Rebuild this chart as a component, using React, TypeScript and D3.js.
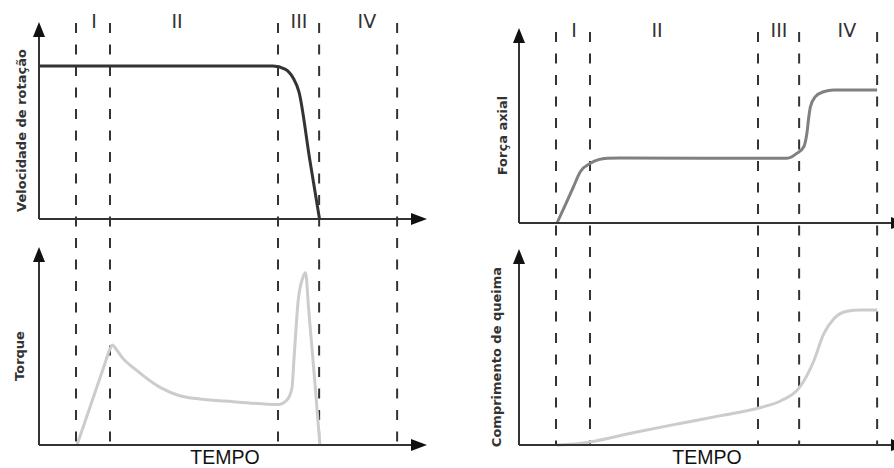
import React from "react";
import * as d3 from "d3";

// Time axis in relative units (0..100), value axis in relative units (0..100)
const phaseBounds = [9.54, 18.3, 61.6, 72.2, 92.3];
const phaseLabels = ["I", "II", "III", "IV"];
const phaseLabelPos = [14.2, 35.6, 67.0, 84.5];

const speedT = [0, 60.3, 63.4, 65.5, 67.0, 69.8, 72.3];
const speedV = [77.7, 77.7, 76.1, 71.6, 64.5, 29.9, 0];

const torqueT = [9.8, 12.0, 14.5, 17.0, 18.2, 18.9, 19.8, 21.5, 24.7, 31.2, 36.3, 41.5, 50.1, 61.7, 63.9, 65.2, 65.7, 66.8, 68.0, 68.7, 69.5, 71.0, 72.4];
const torqueV = [0, 12.6, 26.9, 41.2, 48.0, 50.5, 48.6, 44.0, 38.4, 29.1, 24.9, 23.2, 21.9, 20.4, 22.7, 28.8, 42.9, 72.9, 84.5, 87.0, 68.5, 34.0, 0];

const forceT = [9.8, 12.0, 14.0, 15.8, 18.4, 22.7, 26.0, 69.1, 71.6, 73.4, 74.2, 74.7, 75.1, 76.4, 78.5, 81.1, 92.3];
const forceV = [0, 9.6, 18.4, 26.3, 30.6, 33.2, 33.3, 33.2, 35.7, 39.1, 46.0, 54.5, 59.6, 64.8, 67.3, 68.2, 68.2];

const burnT = [9.8, 14.4, 18.4, 30.0, 41.5, 52.0, 61.8, 67.5, 72.2, 76.0, 78.5, 81.1, 84.5, 88.0, 92.3];
const burnV = [0, 0.5, 1.6, 6.5, 11.0, 15.0, 18.9, 22.6, 29.1, 43.0, 56.6, 64.3, 68.2, 68.9, 68.9];

const axisColor = "#333";
const font = "'DejaVu Sans', Verdana, sans-serif";

type PanelProps = {
  x0: number;
  x1: number;
  yBase: number;
  yTop: number;
  t: number[];
  v: number[];
  color: string;
  label: string;
  labelX: number;
};

function Panel({ x0, x1, yBase, yTop, t, v, color, label, labelX }: PanelProps) {
  const x = d3.scaleLinear().domain([0, 100]).range([x0, x1]);
  const y = d3.scaleLinear().domain([0, 100]).range([yBase, yTop]);
  const pts: [number, number][] = t.map((tt, i) => [tt, v[i]]);
  const line = d3
    .line<[number, number]>()
    .x((d) => x(d[0]))
    .y((d) => y(d[1]))
    .curve(d3.curveMonotoneX);
  const ax = x(0);
  const tipX = x(100);
  const midY = (yBase + yTop) / 2 + 10;
  return (
    <g>
      <path d={line(pts) || ""} fill="none" stroke={color} strokeWidth={3} strokeLinejoin="round" />
      <line x1={ax} y1={yBase} x2={ax} y2={yTop + 8} stroke={axisColor} strokeWidth={2} />
      <path d={`M${ax},${yTop} L${ax - 6},${yTop + 15} L${ax + 6},${yTop + 15} Z`} fill="#111" />
      <line x1={ax} y1={yBase} x2={tipX - 8} y2={yBase} stroke={axisColor} strokeWidth={2} />
      <path d={`M${tipX},${yBase} L${tipX - 16},${yBase - 6} L${tipX - 16},${yBase + 6} Z`} fill="#111" />
      <text
        transform={`translate(${labelX},${midY}) rotate(-90)`}
        textAnchor="middle"
        fontFamily={font}
        fontWeight="bold"
        fontSize={13}
        fill="#333"
      >
        {label}
      </text>
    </g>
  );
}

function Column({ x0, x1, dashTop, dashBottom, labelY }: { x0: number; x1: number; dashTop: number; dashBottom: number; labelY: number }) {
  const x = d3.scaleLinear().domain([0, 100]).range([x0, x1]);
  return (
    <g>
      {phaseBounds.map((b, i) => (
        <line
          key={i}
          x1={x(b)}
          x2={x(b)}
          y1={dashTop}
          y2={dashBottom}
          stroke={axisColor}
          strokeWidth={2}
          strokeDasharray="10 11.5"
        />
      ))}
      {phaseLabels.map((l, i) => (
        <text
          key={l}
          x={x(phaseLabelPos[i])}
          y={labelY}
          textAnchor="middle"
          fontFamily={font}
          fontSize={19}
          fill="#333"
        >
          {l}
        </text>
      ))}
    </g>
  );
}

export default function App() {
  return (
    <svg
      width={894}
      height={468}
      style={{ position: "absolute", left: 0, top: 0, background: "#fff" }}
    >
      <rect width={894} height={468} fill="#fff" />
      <Column x0={39} x1={427} dashTop={23} dashBottom={446} labelY={28} />
      <Column x0={519} x1={907} dashTop={32} dashBottom={446} labelY={37} />
      <Panel x0={39} x1={427} yBase={219} yTop={22} t={speedT} v={speedV} color="#333" label="Velocidade de rotação" labelX={26} />
      <Panel x0={39} x1={427} yBase={445} yTop={247} t={torqueT} v={torqueV} color="#ccc" label="Torque" labelX={24} />
      <Panel x0={519} x1={907} yBase={223} yTop={28} t={forceT} v={forceV} color="#808080" label="Força axial" labelX={507} />
      <Panel x0={519} x1={907} yBase={445} yTop={249} t={burnT} v={burnV} color="#ccc" label="Comprimento de queima" labelX={501} />
      <text x={225} y={464} textAnchor="middle" fontFamily="'Liberation Sans', Arial, sans-serif" fontSize={19.5} fill="#111">TEMPO</text>
      <text x={707} y={464} textAnchor="middle" fontFamily="'Liberation Sans', Arial, sans-serif" fontSize={19.5} fill="#111">TEMPO</text>
    </svg>
  );
}
